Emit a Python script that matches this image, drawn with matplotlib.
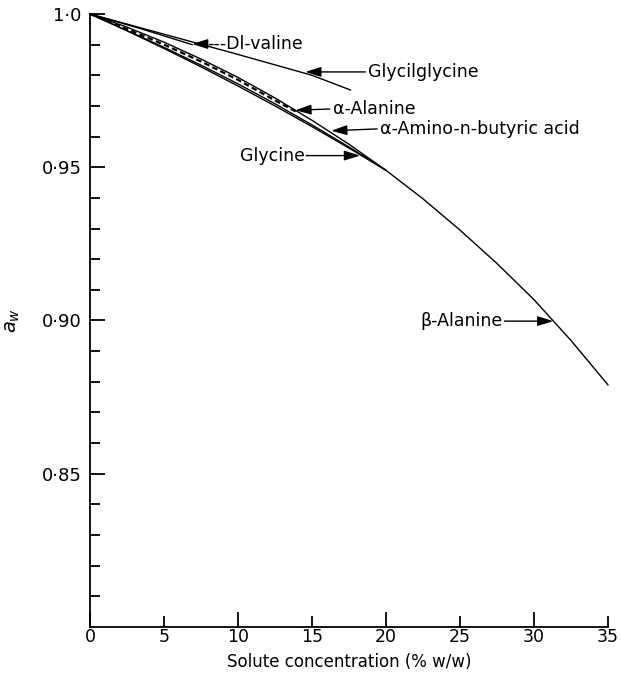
import matplotlib.pyplot as plt
import numpy as np

# water activity of amino acid solutions vs concentration (% w/w)
conc_a = [0, 2.5, 5, 7.5, 10, 12.5, 15, 17.5, 20]
glycine = [1.0, 0.9945, 0.98875, 0.98275, 0.9765, 0.970, 0.96325, 0.95625, 0.949]
amino_butyric = [1.0, 0.9957, 0.9908, 0.9853, 0.9793, 0.9726, 0.9653, 0.9575, 0.949]

conc_ala = [0, 2.5, 5, 7.5, 10, 12.5, 13.9]
alpha_alanine = [1.0, 0.9951, 0.9900, 0.9845, 0.9785, 0.9718, 0.9682]

conc_b = [0, 2.5, 5, 7.5, 10, 12.5, 15, 17.5, 20, 22.5, 25, 27.5, 30, 32.5, 35]
beta_alanine = [1.0, 0.9946, 0.9891, 0.9833, 0.9772, 0.9707, 0.9638, 0.9566, 0.949,
                0.9397, 0.9295, 0.9186, 0.9068, 0.8935, 0.879]

conc_gg = [0, 5, 10, 15, 17.6]
glycylglycine = [1.0, 0.9934, 0.9868, 0.9800, 0.9752]

conc_val = [0, 3.5, 6.9]
valine = [1.0, 0.9951, 0.9900]

fig = plt.figure(figsize=(6.21, 6.79), dpi=100)
ax = fig.add_axes([0.145, 0.0766, 0.834, 0.9028])

kw = dict(color="black", lw=1.0, clip_on=False)
ax.plot(conc_b, beta_alanine, **kw)
ax.plot(conc_a, glycine, **kw)
ax.plot(conc_a, amino_butyric, **kw)
ax.plot(conc_ala, alpha_alanine, color="black", lw=1.6, ls=(0, (2.5, 1.5)), clip_on=False)
ax.plot(conc_gg, glycylglycine, **kw)
ax.plot(conc_val, valine, **kw)

ax.set_xlim(0, 35)
ax.set_ylim(0.80, 1.0)

fs = 12.5
arrow = dict(arrowstyle="-|>,head_length=0.95,head_width=0.3", color="black",
             lw=1.0, shrinkA=0, shrinkB=0, mutation_scale=10)

# (tip, tail, text position, text, alignment)
labels = [
    ((6.9, 0.9902), (7.8, 0.9902), (7.9, 0.9902), "---Dl-valine", "left"),
    ((14.55, 0.9811), (18.6, 0.9811), (18.8, 0.9811), "Glycilglycine", "left"),
    ((13.88, 0.9686), (16.2, 0.9690), (16.4, 0.9690), "α-Alanine", "left"),
    ((16.3, 0.9619), (19.4, 0.9625), (19.6, 0.9625), "α-Amino-n-butyric acid", "left"),
    ((18.24, 0.9538), (14.6, 0.9538), (14.5, 0.9538), "Glycine", "right"),
    ((31.3, 0.8998), (28.0, 0.8998), (27.9, 0.8998), "β-Alanine", "right"),
]
for tip, tail, pos, txt, ha in labels:
    ax.annotate("", xy=tip, xytext=tail, arrowprops=arrow)
    ax.text(pos[0], pos[1], txt, ha=ha, va="center", fontsize=fs)

for s in ["top", "right"]:
    ax.spines[s].set_visible(False)
for s in ["left", "bottom"]:
    ax.spines[s].set_linewidth(1.3)

ax.set_yticks([0.85, 0.90, 0.95, 1.0])
ax.set_yticklabels(["0·85", "0·90", "0·95", "1·0"])
ax.set_yticks(np.arange(0.81, 1.0, 0.01), minor=True)
ax.tick_params(axis="y", which="major", direction="in", length=11, width=1.3,
               labelsize=13, pad=6)
ax.tick_params(axis="y", which="minor", direction="in", length=7.5, width=1.3)

ax.set_xticks([0, 5, 10, 15, 20, 25, 30, 35])
ax.tick_params(axis="x", direction="in", width=1.3, labelsize=12.5, pad=1)
for t, v in zip(ax.xaxis.get_major_ticks(), ax.get_xticks()):
    t.tick1line.set_markersize(11 if v % 10 == 0 else 8)

ax.set_xlabel("Solute concentration (% w/w)", fontsize=12, labelpad=5)
ax.set_ylabel("$a_w$", fontsize=14, labelpad=14)

fig.savefig("out.png", dpi=100)
